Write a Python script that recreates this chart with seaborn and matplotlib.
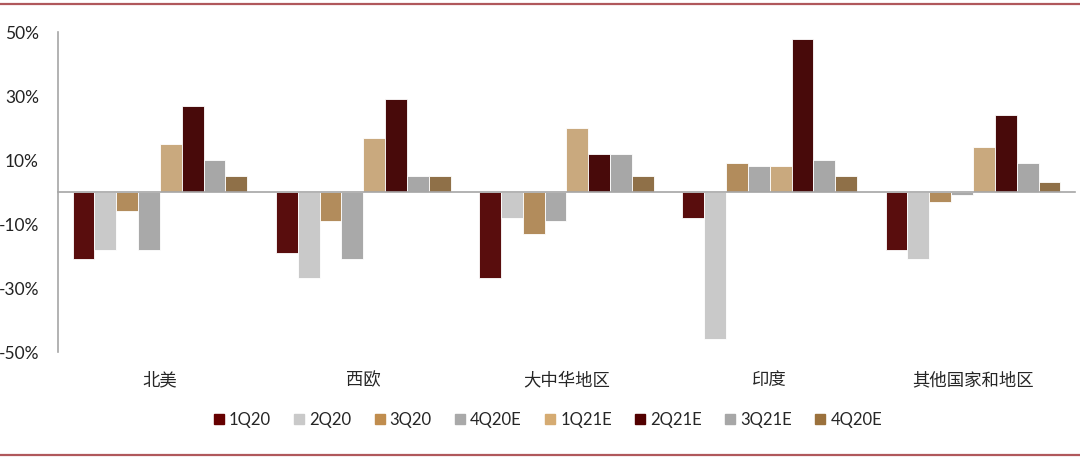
import matplotlib
matplotlib.use("Agg")
import matplotlib.pyplot as plt
import matplotlib.lines as mlines
import matplotlib.ticker as mticker
import pandas as pd
import seaborn as sns

regions = ["北美", "西欧", "大中华地区", "印度", "其他国家和地区"]
series = ["1Q20", "2Q20", "3Q20", "4Q20E", "1Q21E", "2Q21E", "3Q21E", "4Q20E"]
# two series share the label "4Q20E", so keep separate keys for the hue
keys = ["s1", "s2", "s3", "s4", "s5", "s6", "s7", "s8"]
colors = ["#660000", "#C9C9C9", "#C08D4E", "#A9A9A9", "#D5AB72", "#520000", "#A7A7A7", "#9B713C"]

v_1q20 = [-21, -19, -27, -8, -18]
v_2q20 = [-18, -27, -8, -46, -21]
v_3q20 = [-6, -9, -13, 9, -3]
v_4q20e = [-18, -21, -9, 8, -1]
v_1q21e = [15, 17, 20, 8, 14]
v_2q21e = [27, 29, 12, 48, 24]
v_3q21e = [10, 5, 12, 10, 9]
v_4q20e_b = [5, 5, 5, 5, 3]

values = [v_1q20, v_2q20, v_3q20, v_4q20e, v_1q21e, v_2q21e, v_3q21e, v_4q20e_b]
rows = []
for k, vals in zip(keys, values):
    for r, v in zip(regions, vals):
        rows.append({"region": r, "key": k, "value": v})
df = pd.DataFrame(rows)

sns.set_style("white")
plt.rcParams["font.family"] = ["Lato", "Noto Sans CJK SC", "DejaVu Sans"]

fig = plt.figure(figsize=(10.8, 4.59), dpi=100)
ax = fig.add_axes([0.054, 0.233, 0.941, 0.697])

sns.barplot(data=df, x="region", y="value", hue="key", hue_order=keys,
            order=regions, palette=dict(zip(keys, colors)), width=0.86,
            edgecolor="white", linewidth=0.6, ax=ax, legend=False)

ax.set_ylim(-50, 50)
ax.set_xlim(-0.5, len(regions) - 0.5)
ax.set_yticks([-50, -30, -10, 10, 30, 50])
ax.yaxis.set_major_formatter(mticker.FuncFormatter(lambda v, p: f"{v:.0f}%"))
ax.tick_params(axis="y", length=0, pad=14, labelsize=12.5, colors="#222222")
ax.set_xlabel("")
ax.set_ylabel("")

for s in ["top", "right"]:
    ax.spines[s].set_visible(False)
ax.spines["left"].set_color("#A6A6A6")
ax.spines["left"].set_linewidth(1.2)
ax.spines["bottom"].set_position(("data", 0))
ax.spines["bottom"].set_color("#A6A6A6")
ax.spines["bottom"].set_linewidth(1.2)
ax.set_xticks([i + 0.5 for i in range(len(regions))])
ax.set_xticklabels([])
ax.tick_params(axis="x", length=4, width=1, color="#A6A6A6", direction="out")

sec = ax.secondary_xaxis(location=0)
sec.set_xticks(range(len(regions)))
sec.set_xticklabels(regions, fontsize=12.5, family=["Noto Sans CJK SC", "DejaVu Sans"])
sec.tick_params(length=0, pad=14)
sec.spines["bottom"].set_visible(False)

handles = [mlines.Line2D([], [], marker="s", linestyle="none", markersize=7,
                         markerfacecolor=c, markeredgecolor=c) for c in colors]
fig.legend(handles, series, loc="center", bbox_to_anchor=(0.505, 0.085), ncol=8,
           frameon=False, fontsize=12, handletextpad=0.0, columnspacing=1.1,
           handlelength=1.2)

for y in (0.992, 0.008):
    fig.add_artist(mlines.Line2D([0, 1], [y, y], color="#B0585C", linewidth=1.6,
                                 transform=fig.transFigure))

fig.savefig("out.png", dpi=100)
